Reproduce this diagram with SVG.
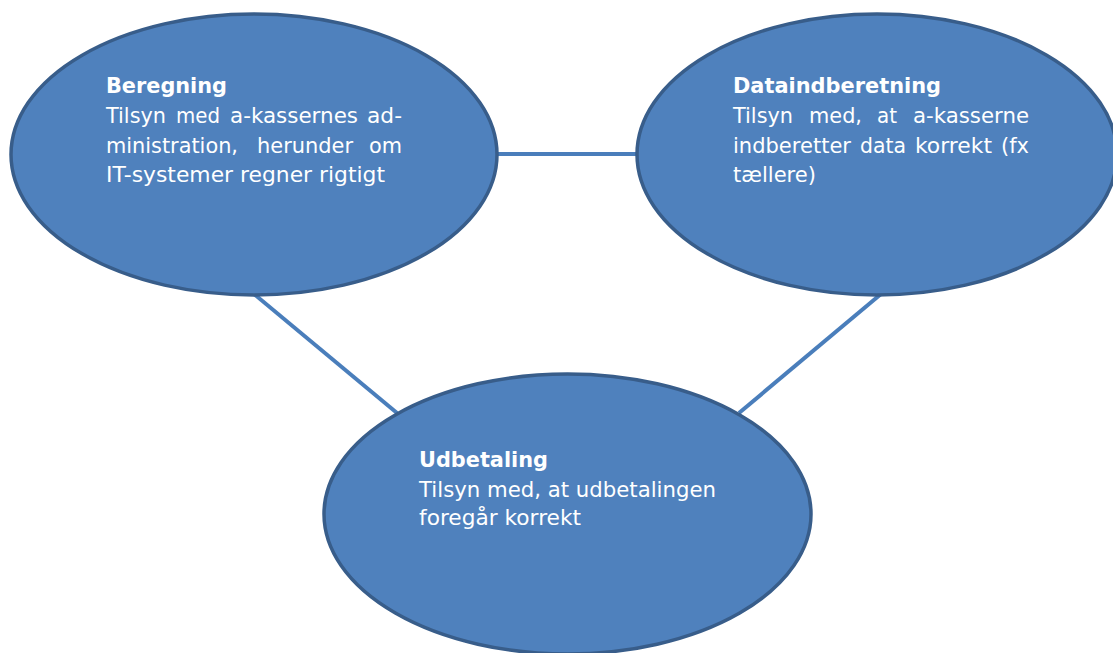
<svg xmlns="http://www.w3.org/2000/svg" width="1113" height="653" viewBox="0 0 1113 653">
<style>
.node{fill:#4f81bd;stroke:#385d8a;stroke-width:3.5}
.conn{stroke:#4a7ebb;stroke-width:4;fill:none}
text{font-family:"DejaVu Sans",Verdana,sans-serif;font-size:21.5px;fill:#ffffff}
.t{font-weight:bold}
</style>
<rect width="1113" height="653" fill="#ffffff"/>
<g id="connectors">
<line class="conn" x1="496" y1="154" x2="639" y2="154"/>
<line class="conn" x1="254" y1="294" x2="397" y2="413"/>
<line class="conn" x1="881" y1="294" x2="739" y2="413"/>
</g>
<g id="beregning">
<ellipse class="node" cx="254" cy="154.5" rx="243" ry="140.5"/>
<text class="t" x="106" y="93" textLength="121" lengthAdjust="spacingAndGlyphs">Beregning</text>
<text y="123"><tspan x="106" textLength="60" lengthAdjust="spacingAndGlyphs">Tilsyn</tspan> <tspan x="176" textLength="44" lengthAdjust="spacingAndGlyphs">med</tspan> <tspan x="230" textLength="128" lengthAdjust="spacingAndGlyphs">a-kassernes</tspan> <tspan x="367" textLength="35" lengthAdjust="spacingAndGlyphs">ad-</tspan></text>
<text y="153"><tspan x="106" textLength="132" lengthAdjust="spacingAndGlyphs">ministration,</tspan> <tspan x="257" textLength="96" lengthAdjust="spacingAndGlyphs">herunder</tspan> <tspan x="369" textLength="33" lengthAdjust="spacingAndGlyphs">om</tspan></text>
<text x="106" y="182" textLength="279" lengthAdjust="spacingAndGlyphs">IT-systemer regner rigtigt</text>
</g>
<g id="dataindberetning">
<ellipse class="node" cx="877" cy="154.5" rx="240" ry="140.5"/>
<text class="t" x="733" y="93" textLength="208" lengthAdjust="spacingAndGlyphs">Dataindberetning</text>
<text y="123"><tspan x="733" textLength="60" lengthAdjust="spacingAndGlyphs">Tilsyn</tspan> <tspan x="809" textLength="53" lengthAdjust="spacingAndGlyphs">med,</tspan> <tspan x="877" textLength="20" lengthAdjust="spacingAndGlyphs">at</tspan> <tspan x="913" textLength="116" lengthAdjust="spacingAndGlyphs">a-kasserne</tspan></text>
<text y="153"><tspan x="733" textLength="118" lengthAdjust="spacingAndGlyphs">indberetter</tspan> <tspan x="860" textLength="46" lengthAdjust="spacingAndGlyphs">data</tspan> <tspan x="915" textLength="77" lengthAdjust="spacingAndGlyphs">korrekt</tspan> <tspan x="1001" textLength="28" lengthAdjust="spacingAndGlyphs">(fx</tspan></text>
<text x="733" y="182" textLength="83" lengthAdjust="spacingAndGlyphs">tællere)</text>
</g>
<g id="udbetaling">
<ellipse class="node" cx="567.5" cy="514" rx="243.5" ry="140"/>
<text class="t" x="419" y="467" textLength="129" lengthAdjust="spacingAndGlyphs">Udbetaling</text>
<text x="419" y="497" textLength="297" lengthAdjust="spacingAndGlyphs">Tilsyn med, at udbetalingen</text>
<text x="419" y="525" textLength="162" lengthAdjust="spacingAndGlyphs">foregår korrekt</text>
</g>
</svg>
